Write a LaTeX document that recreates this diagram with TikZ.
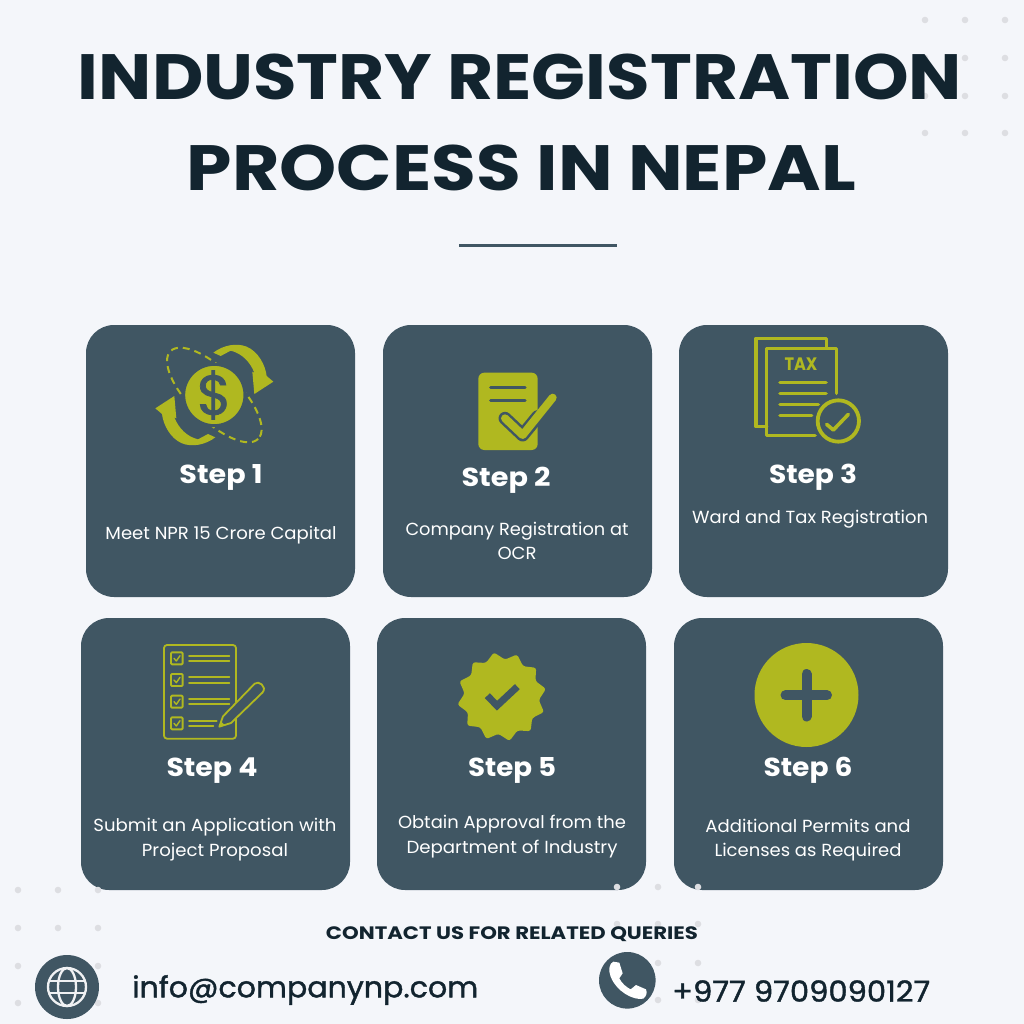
\documentclass[tikz,border=0pt]{standalone}
\usepackage{fontspec}
\usepackage{graphicx}
\setmainfont{Poppins}
\newfontfamily\medf[FakeBold=1.3]{Poppins}
\usetikzlibrary{shapes.geometric}
\definecolor{bgc}{HTML}{F4F6FA}
\definecolor{cardc}{HTML}{405663}
\definecolor{olive}{HTML}{B0B820}
\definecolor{darkc}{HTML}{12242F}
\definecolor{dotc}{HTML}{DDDEE2}
\newcommand{\fitw}[2]{\resizebox{#1bp}{\height}{#2}}
\newcommand{\fs}[1]{\fontsize{#1bp}{#1bp}\selectfont}
\tikzset{
  x=1bp,y=-1bp,
  card/.style={fill=cardc,rounded corners=28bp,draw=none},
  dotm/.style={fill=dotc,draw=none},
  title/.style={text=darkc,inner sep=0,font=\fs{64}\bfseries},
  steplabel/.style={text=white,inner sep=0,font=\fs{26}\bfseries},
  desc/.style={text=white,inner sep=0,font=\fs{17.5}},
  oline/.style={draw=olive,line cap=round,line join=round},
  cline/.style={draw=cardc,line cap=round,line join=round},
}
\begin{document}
\begin{tikzpicture}
\useasboundingbox (0,0) rectangle (1024,1024);
\fill[bgc] (0,0) rectangle (1024,1024);
% cards
\foreach \a/\b in {86/325,383/325,679/325,81/618,377/618,674/618}{
  \fill[card] (\a,\b) rectangle ++(269,272);
}
% dots
\foreach \a in {925,965,1005}{\foreach \b in {20,58,96,133}{\fill[dotm] (\a,\b) circle[radius=3.3];}}
\foreach \a in {18,58,98}{\foreach \b in {890,928,966,1003}{\fill[dotm] (\a,\b) circle[radius=3.3];}}
\foreach \a in {617,658,698}{\foreach \b in {887,924,963,1000}{\fill[dotm] (\a,\b) circle[radius=3.3];}}
% title
\node[title] (t1) at (520,77) {\fitw{884}{INDUSTRY REGISTRATION}};
\node[title] (t2) at (521.5,167.5) {\fitw{669}{PROCESS IN NEPAL}};
\fill[cardc] (459,243.5) rectangle (617,246.5);
% step labels
\node[steplabel] (s1) at (221,477.5) {\fitw{83}{Step 1}};
\node[steplabel] (s2) at (506,480.5) {\fitw{89}{Step 2}};
\node[steplabel] (s3) at (813,477.5) {\fitw{88}{Step 3}};
\node[steplabel] (s4) at (212,770.5) {\fitw{91}{Step 4}};
\node[steplabel] (s5) at (512,770.5) {\fitw{88}{Step 5}};
\node[steplabel] (s6) at (808,770.5) {\fitw{89}{Step 6}};
% descriptions
\node[desc] (d1) at (221,535) {\fitw{231}{Meet NPR 15 Crore Capital}};
\node[desc] (d2a) at (517,531) {\fitw{223}{Company Registration at}};
\node[desc] (d2b) at (517,553.5) {\fitw{39}{OCR}};
\node[desc] (d3) at (810,519) {\fitw{236}{Ward and Tax Registration}};
\node[desc] (d4a) at (215,827.5) {\fitw{243}{Submit an Application with}};
\node[desc] (d4b) at (215,852.5) {\fitw{146}{Project Proposal}};
\node[desc] (d5a) at (512,824.5) {\fitw{228}{Obtain Approval from the}};
\node[desc] (d5b) at (512,849.5) {\fitw{211}{Department of Industry}};
\node[desc] (d6a) at (808,825.5) {\fitw{205}{Additional Permits and}};
\node[desc] (d6b) at (808,852.5) {\fitw{187}{Licenses as Required}};
% contact
\node[text=darkc,inner sep=0,font=\fs{18}\bfseries] (c0) at (512,934) {\fitw{372}{CONTACT US FOR RELATED QUERIES}};
\node[text=darkc,inner sep=0,font=\fs{29}\medf,anchor=west] (c1) at (132,990) {\fitw{346}{info@companynp.com}};
\node[text=darkc,inner sep=0,font=\fs{29}\medf,anchor=west] (c2) at (672,991) {\fitw{258}{+977 9709090127}};
% step 1 icon
\begin{scope}[shift={(130,330)},x=1bp/3,y=-1bp/3]
  \draw[olive,line width=2bp,dash pattern=on 7bp off 5bp,rotate around={-45:(253,195)}] (253,195) ellipse [x radius=186,y radius=75];
  \fill[olive,draw=cardc,line width=3bp] (253,195) circle[radius=92];
  \foreach \r in {0,180}{
  \fill[olive,rotate around={\r:(253,195)}] (250,68) .. controls (280,45) and (320,38) .. (350,50) .. controls (385,65) and (406,105) .. (410,138) -- (430,155) -- (373,192) -- (367,125) -- (373,128) .. controls (360,95) and (335,70) .. (302,62) -- (272,78) -- cycle;
  }
\end{scope}
\node[text=cardc,inner sep=0,font=\fs{56}\medf] (dollar) at (214.3,395) {\$};
% step 2 icon
\begin{scope}[shift={(460,330)},x=1bp/3,y=-1bp/3]
  \fill[olive,rounded corners=6bp] (55,128) rectangle (233,360);
  \draw[cline,line width=3.2bp] (92,173) -- (195,173) (92,211) -- (195,211);
  \draw[cline,line width=13bp] (135,265) -- (188,315) -- (233,260);
  \draw[oline,line width=8bp] (135,265) -- (188,315) -- (278,203);
\end{scope}
% step 3 icon
\begin{scope}[shift={(460,330)},x=1bp/3,y=-1bp/3]
  \draw[oline,line width=3.6bp] (1100,50) -- (1100,25) -- (888,25) -- (888,290) -- (920,290);
  \draw[oline,line width=3.6bp] (1065,316) -- (920,316) -- (920,55) -- (1130,55) -- (1130,190);
  \draw[oline,line width=3.6bp] (960,157) -- (1098,157) (960,190) -- (1098,190) (960,224) -- (1075,224) (960,257) -- (1055,257);
  \draw[oline,line width=3.8bp] (1135,273) circle[radius=62];
  \draw[oline,line width=3.6bp] (1100,283) -- (1120,300) -- (1165,253);
  \node[text=olive,inner sep=0,font=\fs{18}\bfseries] (tax) at (1023,103) {\fitw{33}{TAX}};
\end{scope}
% step 4 icon
\begin{scope}[shift={(150,635)},x=1bp/3,y=-1bp/3]
  \draw[oline,line width=1.8bp] (42,30) [rounded corners=3bp] rectangle (258,311);
  \foreach \b in {70,135,200,265}{
    \draw[oline,line width=1.9bp,rounded corners=1bp] (63,\b-18) rectangle (98,\b+18);
    \draw[oline,line width=1.4bp] (72,\b) -- (79,\b+8) -- (90,\b-8);
  }
  \foreach \b in {70,135,200}{
    \draw[oline,line width=1.8bp] (117,\b-8) -- (238,\b-8) (117,\b+8) -- (238,\b+8);
  }
  \draw[oline,line width=1.8bp] (117,257) -- (200,257) (117,273) -- (190,273);
  \draw[oline,fill=cardc,line width=1.8bp] (208,275) -- (219,244) -- (314,146) .. controls (325,135) and (352,155) .. (338,172) -- (243,264) -- cycle;
  \fill[olive] (208,275) -- (213,259) -- (224,270) -- cycle;
\end{scope}
% step 5 icon
\node[star,star points=12,star point ratio=1.21,minimum size=90bp,inner sep=0,fill=olive,rounded corners=2.5bp,shape border rotate=10] (badge) at (501.7,696.7) {};
\begin{scope}[shift={(150,635)},x=1bp/3,y=-1bp/3]
  \draw[cardc,line width=7bp] (1012,182) -- (1041,212) -- (1102,155);
\end{scope}
% step 6 icon
\fill[olive] (806.5,695) circle[radius=52];
\draw[cline,line width=10bp] (806.5,674) -- (806.5,716.5) (785.5,695.3) -- (827,695.3);
% globe
\fill[cardc] (67,987) circle[radius=32];
\draw[white!92!cardc,line width=2.3bp] (67,987) circle[radius=19];
\draw[white!92!cardc,line width=2.3bp] (67,987) ellipse[x radius=9,y radius=19];
\draw[white!92!cardc,line width=2.3bp] (49,981) -- (85,981) (49,993) -- (85,993);
% phone
\fill[cardc] (627.3,980.3) circle[radius=28.3];
\begin{scope}[shift={(580,870)},x=1bp/3,y=-1bp/3]
  \fill[white] (100,275) -- (118,278) -- (128,310) -- (118,325) .. controls (125,340) and (140,352) .. (152,358) -- (168,345) -- (198,358) .. controls (202,368) and (200,378) .. (190,386) .. controls (160,392) and (110,365) .. (92,320) .. controls (84,300) and (88,280) .. (100,275) -- cycle;
\end{scope}
\end{tikzpicture}
\end{document}
